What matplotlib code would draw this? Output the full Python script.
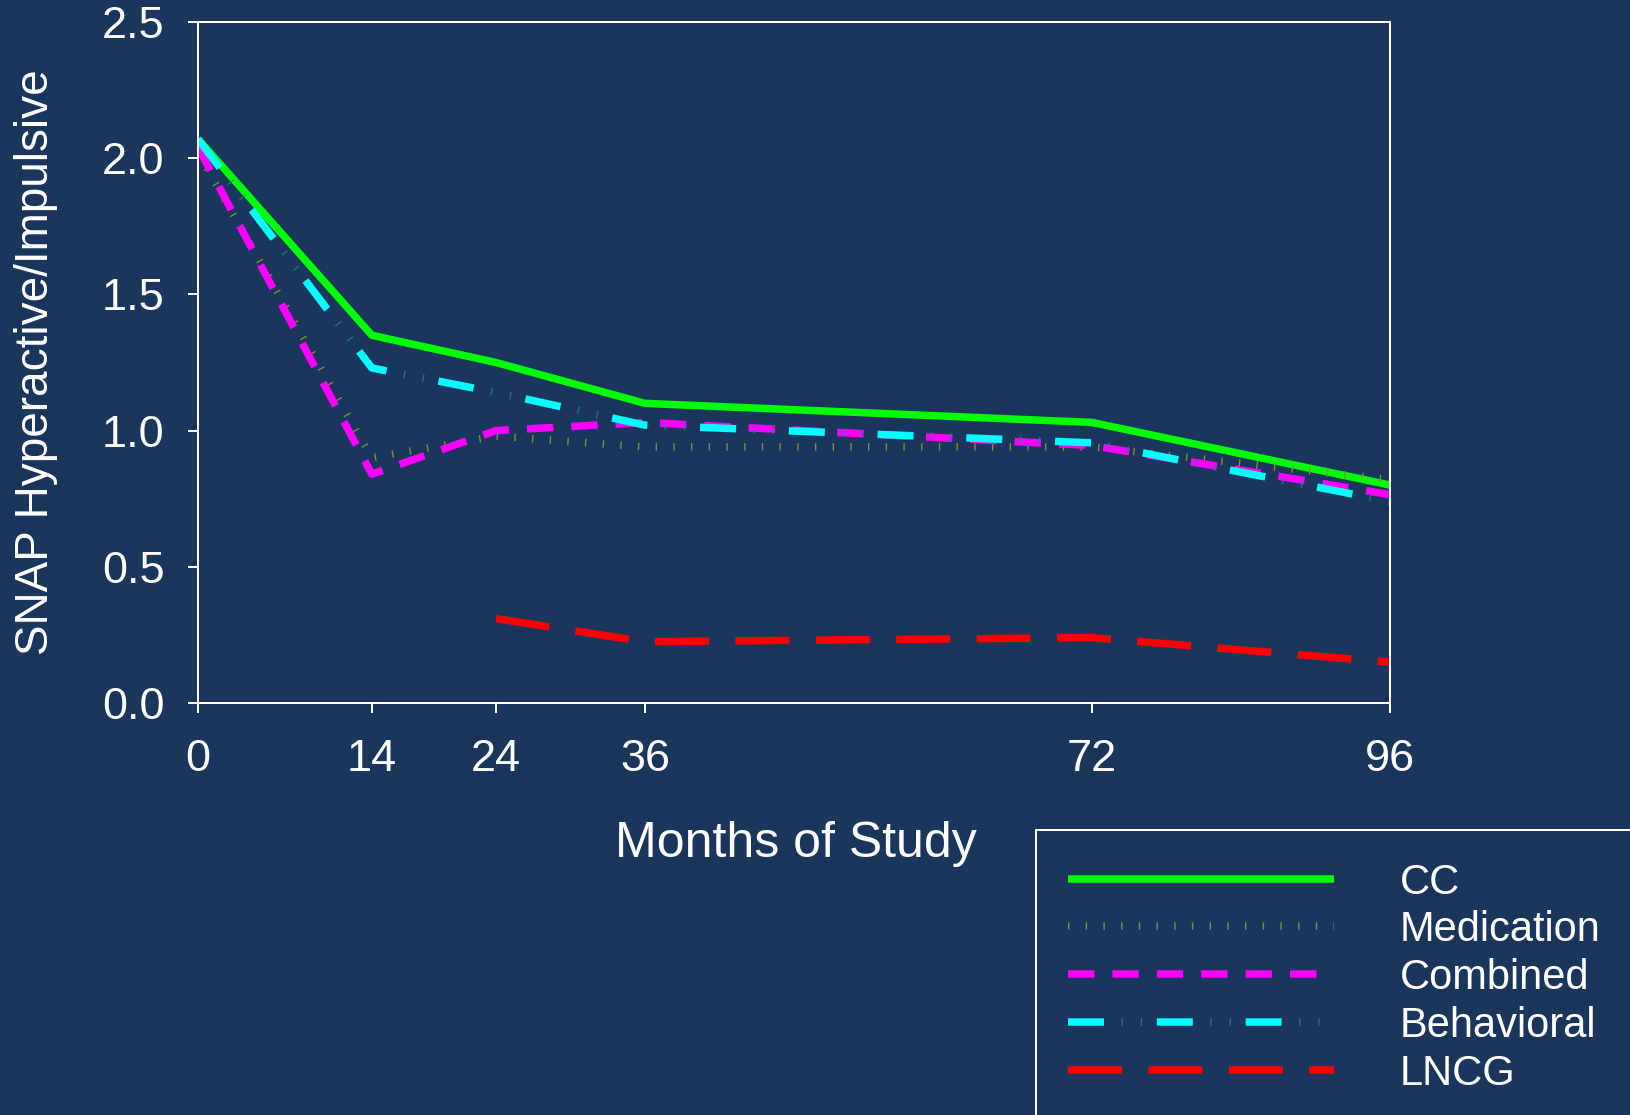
import numpy as np
import matplotlib
matplotlib.use("Agg")
import matplotlib.pyplot as plt

plt.rcParams["font.family"] = ["Liberation Sans", "DejaVu Sans"]
plt.rcParams["lines.scale_dashes"] = False

# ---- data -----------------------------------------------------------------
months = [0, 14, 24, 36, 72, 96]
series_names = ["CC", "Medication", "Combined", "Behavioral", "LNCG"]
cc = [2.07, 1.35, 1.25, 1.10, 1.03, 0.80]
medication = [2.02, 0.90, 0.98, 0.94, 0.94, 0.82]
combined = [2.04, 0.84, 1.00, 1.03, 0.945, 0.765]
behavioral = [2.07, 1.23, 1.14, 1.02, 0.955, 0.74]
lncg = [np.nan, np.nan, 0.31, 0.225, 0.24, 0.15]
y_ticks = [0.0, 0.5, 1.0, 1.5, 2.0, 2.5]

BG = "#1A365D"
PX = 0.72  # points per pixel at dpi 100

W, H = 1630, 1115
fig = plt.figure(figsize=(W / 100, H / 100), dpi=100, facecolor=BG)

# main plotting area (pixel box: x 198..1390, y 22..703)
ax = fig.add_axes([198 / W, 1 - 703 / H, (1390 - 198) / W, (703 - 22) / H])
ax.set_facecolor(BG)

lw = 7.5 * PX

# line styles: colour and dash pattern in pixels (None = solid)
styles = {
    "CC": dict(color="#00FF00", dashes=None),
    "Medication": dict(color="#858C3A", dashes=(1.4, 16.3)),
    "Combined": dict(color="#FF00FF", dashes=(26.4, 18.0)),
    "Behavioral": dict(color="#00FFFF", dashes=(36.0, 52.8)),
    "LNCG": dict(color="#FF0000", dashes=(54.0, 26.4)),
}
values = {"CC": cc, "Medication": medication, "Combined": combined,
          "Behavioral": behavioral, "LNCG": lncg}


def draw(target, x, y, name):
    st = styles[name]
    if st["dashes"] is None:
        target.plot(x, y, color=st["color"], lw=lw, solid_capstyle="butt")
        return
    d = tuple(v * PX for v in st["dashes"])
    target.plot(x, y, color=st["color"], lw=lw, dash_capstyle="butt",
                linestyle=(0, d))
    if name == "Behavioral":
        # faint ticks in the gaps between the long cyan dashes
        ticks = tuple(v * PX for v in (1.2, 18.0, 1.2, 68.4))
        target.plot(x, y, color="#1E7C92", lw=lw, dash_capstyle="butt",
                    linestyle=(35.2 * PX, ticks))


for name in series_names:
    draw(ax, months, values[name], name)

ax.set_xlim(0, 96)
ax.set_ylim(0, 2.5)
ax.set_xticks(months)
ax.set_xticklabels([str(m) for m in months])
ax.set_yticks(y_ticks)
ax.set_yticklabels([f"{v:.1f}" for v in y_ticks])

for s in ax.spines.values():
    s.set_color("white")
    s.set_linewidth(2 * PX)
ax.tick_params(axis="both", colors="white", length=10 * PX, width=2 * PX,
               labelsize=32.5, direction="out")
ax.tick_params(axis="y", pad=17)
ax.tick_params(axis="x", pad=19)

fig.text(36 / W, 1 - 362 / H, "SNAP Hyperactive/Impulsive", rotation=90,
         color="white", fontsize=33, ha="center", va="center")
fig.text(796 / W, 1 - 857 / H, "Months of Study", color="white",
         fontsize=36, ha="center", va="baseline")

# ---- legend box (runs off the lower-right edge) ----------------------------
lx0, ly0 = 1036, 830
lax = fig.add_axes([lx0 / W, -0.02, (W + 20 - lx0) / W, (H - ly0) / H + 0.02])
lax.set_xlim(lx0, W + 20)
lax.set_ylim(H + 0.02 * H, ly0)
lax.set_facecolor(BG)
lax.set_xticks([])
lax.set_yticks([])
for s in lax.spines.values():
    s.set_color("white")
    s.set_linewidth(2 * PX)

row_y = [879, 926, 974, 1022, 1070]
for name, yy in zip(series_names, row_y):
    draw(lax, [1068, 1334], [yy, yy], name)
    lax.text(1400, yy + 4, name, color="white", fontsize=30, ha="left",
             va="center")

fig.savefig("out.png", dpi=100, facecolor=BG)
